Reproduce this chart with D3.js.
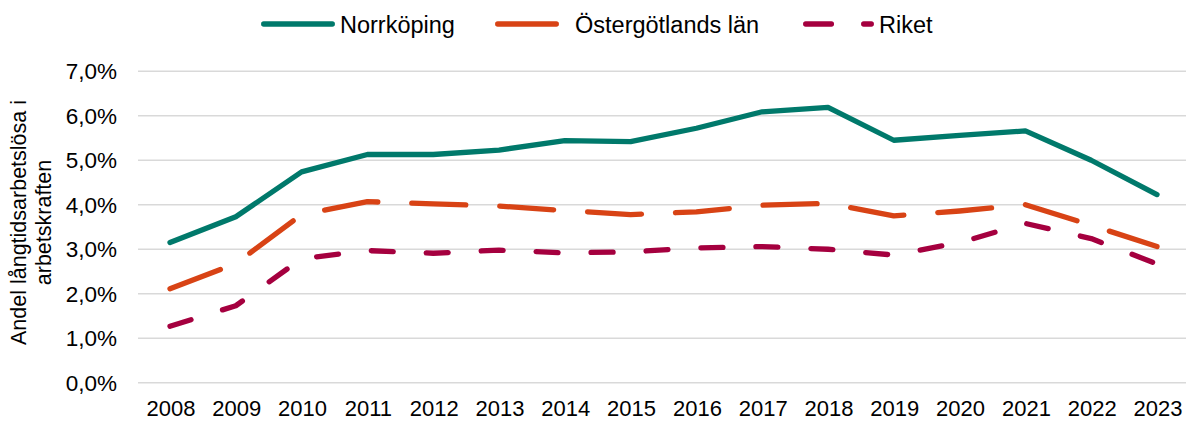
<!DOCTYPE html>
<html><head><meta charset="utf-8">
<script src="https://cdn.jsdelivr.net/npm/d3@7"></script>
<style>body{margin:0;background:#fff}svg{display:block;font-family:"Liberation Sans",Arial,sans-serif}</style>
</head><body><svg id="c" width="1186" height="421"></svg>
<script>
const years = ["2008","2009","2010","2011","2012","2013","2014","2015","2016","2017","2018","2019","2020","2021","2022","2023"];
const norrkoping = [3.15,3.73,4.74,5.13,5.13,5.23,5.44,5.42,5.72,6.09,6.19,5.45,5.56,5.66,5.00,4.23];
const ostergotland = [2.11,2.68,3.78,4.07,4.02,3.97,3.87,3.78,3.84,3.99,4.03,3.75,3.86,4.00,3.54,3.06];
const riket = [1.27,1.73,2.79,2.97,2.91,2.98,2.92,2.94,3.03,3.06,3.00,2.87,3.15,3.58,3.24,2.67];
const yTicks = [0,1,2,3,4,5,6,7];
const seriesNames = ["Norrköping","Östergötlands län","Riket"];
const yTitle = ["Andel långtidsarbetslösa i","arbetskraften"];

const colors = ["#00796B","#D84315","#A5003F"];
const dashes = [null,"54,34","22,33"];

const svg = d3.select("#c");
const x = d3.scalePoint().domain(years).range([170,1157]);
const y = d3.scaleLinear().domain([0,7]).range([382.7,71.3]);

// gridlines
svg.append("g").selectAll("line").data(yTicks).join("line")
  .attr("x1",138).attr("x2",1186)
  .attr("y1",d=>y(d)).attr("y2",d=>y(d))
  .attr("stroke","#d9d9d9").attr("stroke-width",1.5);

// y tick labels
svg.append("g").selectAll("text").data(yTicks).join("text")
  .attr("x",117).attr("y",d=>y(d)+8)
  .attr("text-anchor","end").attr("font-size",22.5).attr("fill","#000")
  .text(d=>d3.format(".1f")(d).replace(".",",")+"%");

// x tick labels
svg.append("g").selectAll("text").data(years).join("text")
  .attr("x",d=>x(d)+1).attr("y",416)
  .attr("text-anchor","middle").attr("font-size",22).attr("fill","#000")
  .text(d=>d);

// y title
const yt = svg.append("text").attr("transform","translate(0,222.5) rotate(-90)")
  .attr("text-anchor","middle").attr("font-size",21.5).attr("fill","#000");
yTitle.forEach((t,i)=>yt.append("tspan").attr("x",0).attr("y",26+i*25).text(t));

// lines
const data = [norrkoping, ostergotland, riket];
const line = d3.line().x((d,i)=>x(years[i])).y(d=>y(d));
data.forEach((s,k)=>{
  const p = svg.append("path").datum(s).attr("d",line)
    .attr("fill","none").attr("stroke",colors[k]).attr("stroke-width",5.3)
    .attr("stroke-linecap","round").attr("stroke-linejoin","round");
  if(dashes[k]) p.attr("stroke-dasharray",dashes[k]);
});

// legend
const leg = [
  {x1:263.7,x2:332.3,tx:340,dash:null},
  {x1:497.7,x2:556.3,tx:575,dash:null},
  {x1:805.7,x2:871.3,tx:879,dash:"25.7,32.3"}
];
leg.forEach((L,k)=>{
  const l = svg.append("line").attr("x1",L.x1).attr("x2",L.x2).attr("y1",24).attr("y2",24)
    .attr("stroke",colors[k]).attr("stroke-width",5.3).attr("stroke-linecap","round");
  if(L.dash) l.attr("stroke-dasharray",L.dash);
  svg.append("text").attr("x",L.tx).attr("y",32.5).attr("font-size",23.5).attr("fill","#000").text(seriesNames[k]);
});
</script></body></html>
